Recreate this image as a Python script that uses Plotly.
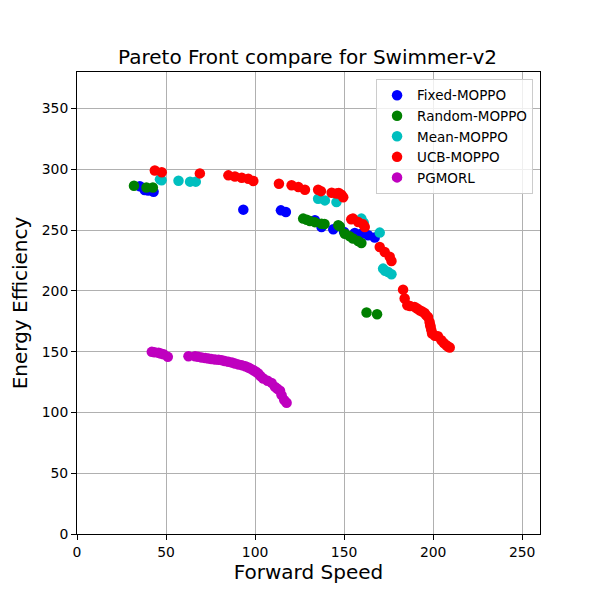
import plotly.graph_objects as go

# Pareto front points (Forward Speed, Energy Efficiency)
fixed_x = [35.3, 38.0, 40.0, 43.0, 93.4, 114.5, 117.3, 133.6, 137.3, 143.9, 150.0, 156.0, 159.7, 163.5, 167.2]
fixed_y = [286.0, 283.0, 282.5, 281.5, 266.8, 266.2, 264.8, 258.0, 252.5, 250.6, 248.5, 247.6, 247.0, 245.7, 243.8]

random_x = [32.0, 39.0, 42.6, 127.0, 129.0, 130.8, 133.6, 137.3, 139.0, 146.7, 147.6, 150.4, 153.0, 155.0, 157.9, 159.7, 162.6, 168.5]
random_y = [286.5, 285.0, 285.0, 259.4, 258.5, 257.4, 256.5, 255.2, 255.0, 253.9, 253.0, 247.0, 245.0, 243.0, 241.0, 239.4, 182.2, 180.8]

mean_x = [46.6, 47.5, 57.0, 63.5, 66.7, 135.4, 139.2, 145.7, 159.7, 161.0, 170.0, 171.9, 173.0, 174.7, 176.6]
mean_y = [291.7, 291.0, 290.5, 289.8, 289.8, 275.8, 274.4, 273.0, 259.4, 256.0, 247.9, 218.3, 216.5, 215.5, 213.6]

ucb_x = [43.7, 47.6, 69.0, 85.0, 88.7, 92.5, 96.2, 99.0, 113.4, 120.5, 124.3, 128.0, 135.4, 137.0,
         143.0, 145.7, 147.0, 148.5, 149.5, 154.0, 155.0, 157.9, 160.7, 161.6, 170.0, 172.8, 175.6, 176.6,
         183.1, 184.0, 185.5, 187.0, 189.6, 191.0, 192.4, 193.8, 195.2, 196.0, 197.1, 198.0, 198.3,
         198.6, 199.0, 199.4, 201.0, 202.7, 204.6, 206.0, 207.4, 208.5, 209.3]
ucb_y = [299.0, 297.5, 296.6, 295.0, 294.1, 293.0, 292.2, 290.3, 288.1, 286.8, 285.4, 283.2, 283.2, 282.0,
         280.7, 280.0, 280.5, 279.0, 277.0, 258.8, 259.4, 256.6, 254.7, 252.5, 236.0, 232.0, 228.0, 224.6,
         201.0, 193.7, 188.2, 187.5, 186.8, 185.5, 184.0, 183.0, 181.8, 180.0, 178.5, 174.4, 172.0,
         170.3, 167.5, 164.9, 163.0, 162.7, 159.4, 157.0, 155.3, 154.0, 153.4]

pg_x = [42.0, 43.5, 45.8, 47.0, 48.6, 51.0, 62.6, 66.3, 68.0, 70.0, 72.0, 73.8, 75.5, 77.5, 79.5, 81.3, 83.0,
        85.0, 87.0, 88.7, 90.5, 92.5, 94.5, 96.2, 97.5, 99.0, 100.5, 101.8, 103.0, 104.6, 107.0, 109.3,
        111.2, 112.5, 114.0, 114.9, 116.4, 117.7]
pg_y = [149.8, 149.5, 149.0, 148.5, 147.9, 145.7, 146.2, 146.2, 145.8, 145.2, 144.8, 144.3, 144.0, 143.5, 143.3,
        143.0, 142.3, 141.6, 141.0, 140.2, 139.5, 138.9, 138.0, 137.0, 136.0, 134.7, 133.5, 132.0, 130.0,
        127.9, 126.0, 124.3, 121.0, 119.5, 117.8, 114.2, 110.1, 107.9]

series = [
    ("Fixed-MOPPO", fixed_x, fixed_y, "#0000ff"),
    ("Random-MOPPO", random_x, random_y, "#008000"),
    ("Mean-MOPPO", mean_x, mean_y, "#00bfbf"),
    ("UCB-MOPPO", ucb_x, ucb_y, "#ff0000"),
    ("PGMORL", pg_x, pg_y, "#bf00bf"),
]

fig = go.Figure()
for name, xs, ys, col in series:
    fig.add_trace(go.Scatter(x=xs, y=ys, mode="markers", name=name,
                             marker=dict(color=col, size=10.5, line=dict(width=0))))

axis_style = dict(showgrid=True, gridcolor="#b0b0b0", gridwidth=1, zeroline=False,
                  showline=True, linecolor="black", linewidth=1, mirror=True,
                  ticks="outside", ticklen=5, tickcolor="black",
                  tickfont=dict(size=13.9, color="black"))

fig.update_xaxes(range=[0, 260], tickvals=[0, 50, 100, 150, 200, 250],
                 title=dict(text="Forward Speed", font=dict(size=20, color="black"), standoff=6),
                 **axis_style)
fig.update_yaxes(range=[0, 380], tickvals=[0, 50, 100, 150, 200, 250, 300, 350],
                 title=dict(text="Energy Efficiency", font=dict(size=20, color="black"), standoff=8),
                 **axis_style)

# the page body adds an 8px offset, so the margins are shifted to compensate
fig.update_layout(
    width=600, height=600,
    margin=dict(l=67, r=68, t=64, b=74),
    paper_bgcolor="white", plot_bgcolor="white",
    font=dict(family="DejaVu Sans", color="black"),
    title=dict(text="Pareto Front compare for Swimmer-v2", x=(67 + 532) / 2 / 600, xanchor="center",
               y=1 - 49 / 600, yanchor="middle", font=dict(size=20, color="black")),
    legend=dict(x=0.985, y=0.985, xanchor="right", yanchor="top",
                bgcolor="rgba(255,255,255,0.8)", bordercolor="#cccccc", borderwidth=1,
                font=dict(size=13.5, color="black"), tracegroupgap=0),
)

fig.write_html("out.html")
